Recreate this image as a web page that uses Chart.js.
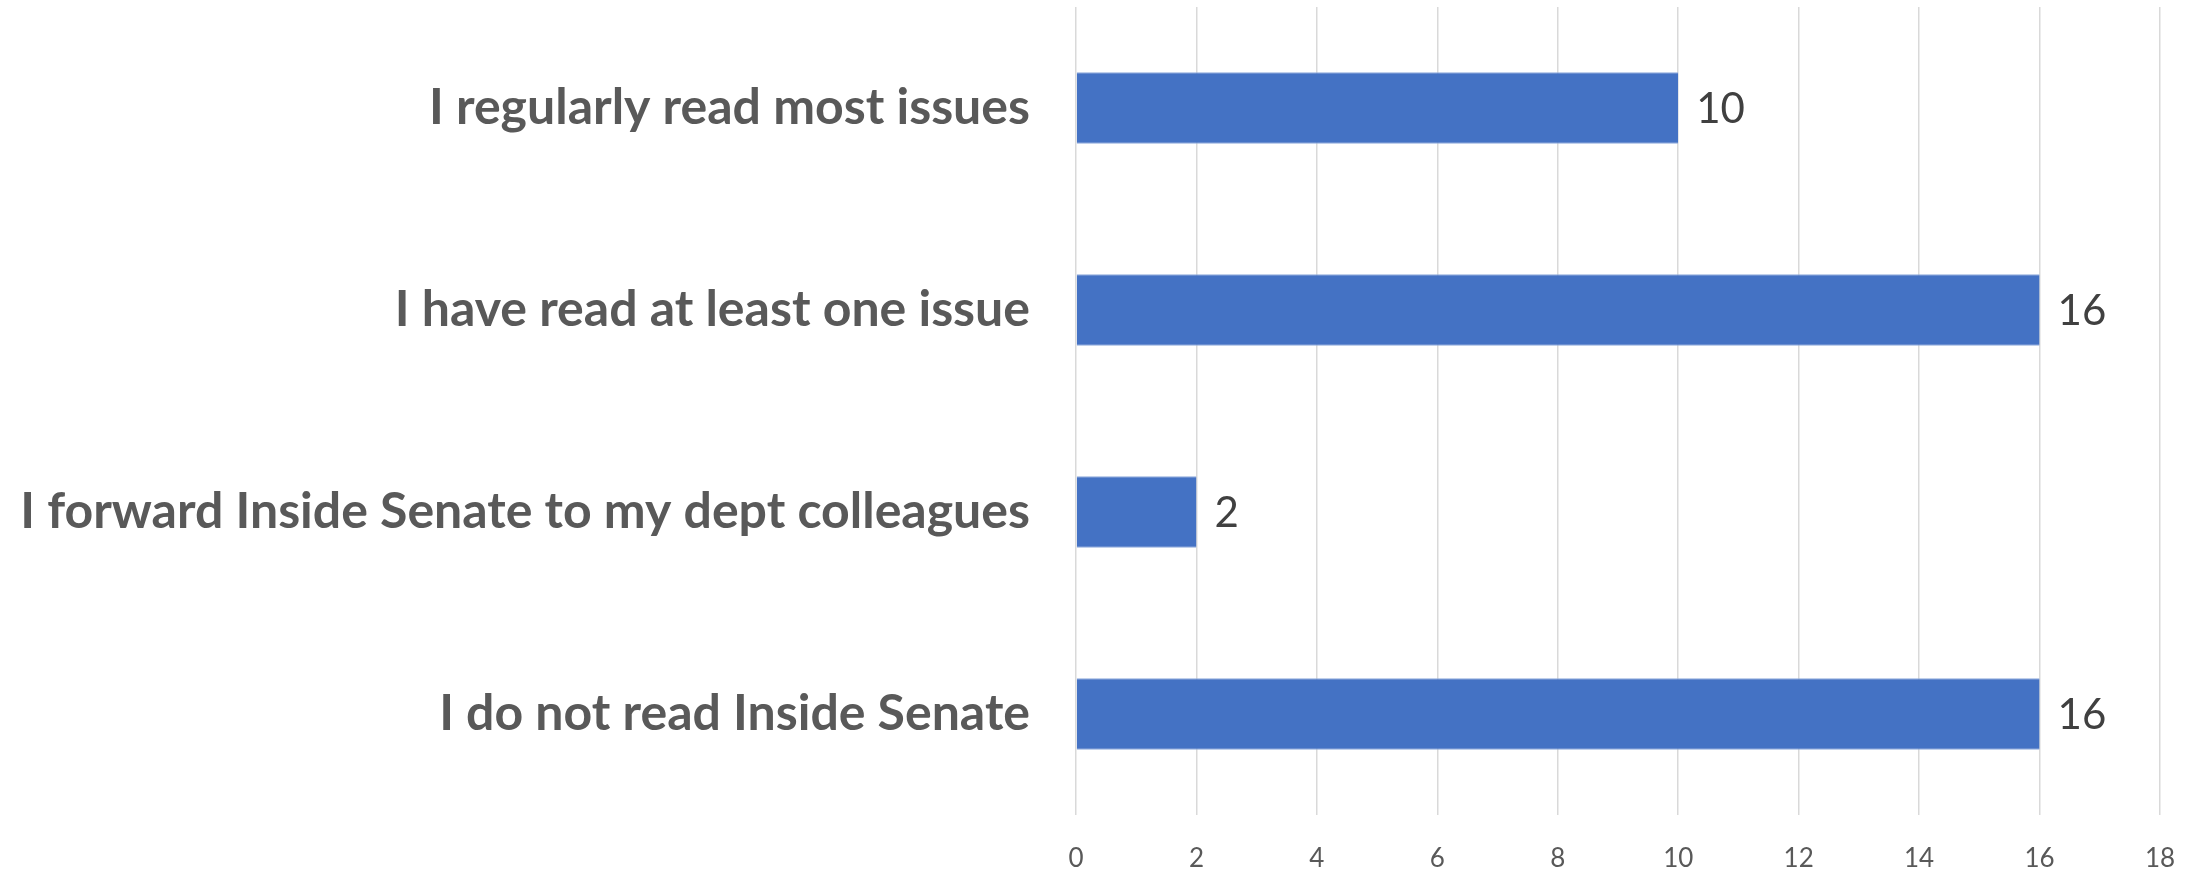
<!DOCTYPE html>
<html>
<head>
<meta charset="utf-8">
<script src="https://cdn.jsdelivr.net/npm/chart.js@4"></script>
<style>
  html, body { margin:0; padding:0; background:#fff; }
  #wrap { width:2192px; height:871px; }
</style>
</head>
<body>
<div id="wrap"><canvas id="grafico"></canvas></div>
<script>
// datos
const categorias = [
    "I regularly read most issues",
    "I have read at least one issue",
    "I forward Inside Senate to my dept colleagues",
    "I do not read Inside Senate"
];
const valores = [10, 16, 2, 16];
const ejeMin = 0, ejeMax = 18, ejePaso = 2;

const fuente = "Lato, 'Open Sans', sans-serif";

// etiquetas de valor a la derecha de cada barra
const etiquetasValor = {
    id: 'etiquetasValor',
    afterDatasetsDraw(chart){
        const ctx = chart.ctx;
        const meta = chart.getDatasetMeta(0);
        ctx.save();
        ctx.font = "42px " + fuente;
        ctx.fillStyle = "#404040";
        ctx.textAlign = "left";
        ctx.textBaseline = "middle";
        meta.data.forEach((barra, i)=>{
            ctx.fillText(String(valores[i]), barra.x + 18, barra.y + 1);
        });
        ctx.restore();
    }
};

const ctx = document.getElementById("grafico").getContext("2d");
new Chart(ctx, {
    type: 'bar',
    data: {
        labels: categorias,
        datasets: [{
            data: valores,
            backgroundColor: "#4472C4",
            borderColor: "#8eaadc",
            borderWidth: {top:1, bottom:1, left:0, right:0},
            borderSkipped: false,
            categoryPercentage: 1,
            barPercentage: 0.355
        }]
    },
    options: {
        indexAxis: 'y',
        responsive: true,
        maintainAspectRatio: false,
        animation: false,
        layout: { padding: { top: 7, right: 32, left: 0, bottom: 0 } },
        plugins: { legend: { display:false }, tooltip: { enabled:false } },
        scales: {
            x: {
                min: ejeMin, max: ejeMax,
                ticks: { stepSize: ejePaso, color:"#595959", font:{ family: fuente, size: 26 }, padding: 28 },
                grid: { color:"#d9d9d9", lineWidth: 1.5, drawTicks:false },
                border: { display:false },
                afterFit: s => { s.height = 56; s.paddingLeft = 0; s.paddingRight = 0; }
            },
            y: {
                ticks: { color:"#595959", font:{ family: fuente, size: 50, weight:'bold' }, padding: 46 },
                grid: { display:false, drawTicks:false },
                border: { display:false },
                afterFit: s => { s.width = 1076; s.paddingTop = 0; s.paddingBottom = 0; }
            }
        }
    },
    plugins: [etiquetasValor]
});
</script>
</body>
</html>
